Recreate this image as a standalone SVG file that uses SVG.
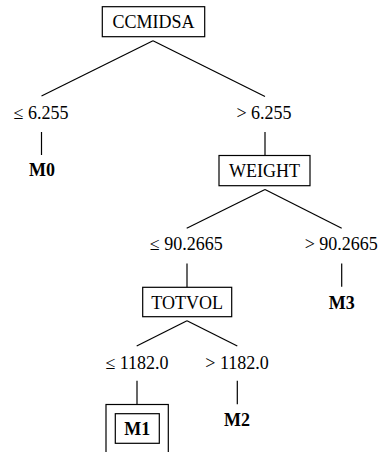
<svg xmlns="http://www.w3.org/2000/svg" width="381" height="452" viewBox="0 0 381 452">
<style>
text{font-family:"Liberation Serif","Times New Roman",serif;font-size:18px;fill:#000;text-anchor:middle}
.b{font-weight:bold}
.box{fill:#fff;stroke:#000;stroke-width:1.2}
#connectors line{stroke:#000;stroke-width:1.2}
</style>
<rect width="381" height="452" fill="#fff"/>
<g id="connectors">
<line x1="153" y1="40.7" x2="41.5" y2="96"/>
<line x1="153" y1="40.7" x2="265" y2="96.5"/>
<line x1="41.5" y1="132" x2="41.5" y2="155"/>
<line x1="265" y1="132" x2="265" y2="155.5"/>
<line x1="265" y1="189.5" x2="186.7" y2="228.3"/>
<line x1="265" y1="189.5" x2="341.7" y2="228.3"/>
<line x1="187" y1="263.5" x2="187" y2="287.5"/>
<line x1="341.7" y1="263.5" x2="341.7" y2="286.7"/>
<line x1="187" y1="320.7" x2="136.7" y2="346"/>
<line x1="187" y1="320.7" x2="237.3" y2="346"/>
<line x1="137" y1="380.7" x2="137" y2="404.5"/>
<line x1="237.3" y1="380.7" x2="237.3" y2="404.3"/>
</g>
<g id="CCMIDSA">
<rect class="box" x="102.3" y="6.7" width="102.4" height="30"/>
<text x="153.5" y="28">CCMIDSA</text>
</g>
<text x="41" y="119.3">≤ 6.255</text>
<text x="264" y="119.3">&gt; 6.255</text>
<g id="M0"><text class="b" x="42" y="176">M0</text></g>
<g id="WEIGHT">
<rect class="box" x="219" y="155.5" width="91" height="30.2"/>
<text x="264.5" y="177.3">WEIGHT</text>
</g>
<text x="186.2" y="249.5">≤ 90.2665</text>
<text x="341.3" y="249.5">&gt; 90.2665</text>
<g id="TOTVOL">
<rect class="box" x="142.7" y="287.3" width="89" height="29.4"/>
<text x="187.2" y="308.5">TOTVOL</text>
</g>
<g id="M3"><text class="b" x="341.7" y="308.5">M3</text></g>
<text x="137" y="368.5">≤ 1182.0</text>
<text x="237" y="368.5">&gt; 1182.0</text>
<g id="M1">
<rect class="box" x="106" y="404.5" width="62.3" height="60"/>
<rect class="box" x="115.3" y="413.7" width="44" height="29.6"/>
<text class="b" x="137.3" y="435.3">M1</text>
</g>
<g id="M2"><text class="b" x="237" y="426">M2</text></g>
</svg>
